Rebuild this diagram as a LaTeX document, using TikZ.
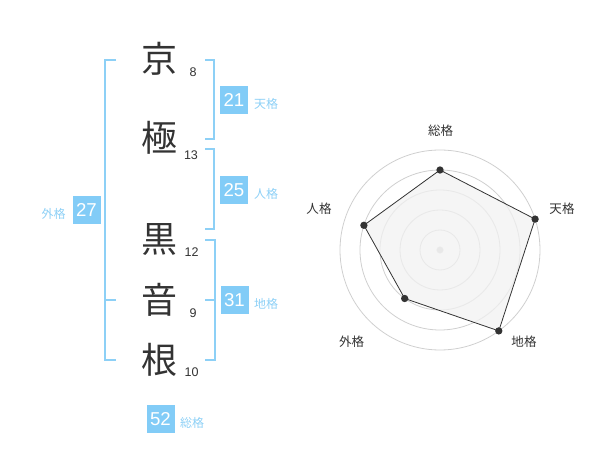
\documentclass[tikz,border=0pt]{standalone}
\usepackage{fontspec}
\setmainfont{Liberation Sans}
\newfontfamily\cjk{Noto Sans CJK JP}
\definecolor{kakublue}{HTML}{82CCF7}
\definecolor{kakuline}{HTML}{8DD0F6}
\definecolor{kakutext}{HTML}{333333}
\definecolor{ringgray}{HTML}{CFCFCF}
\definecolor{areagray}{HTML}{F1F1F1}

\tikzset{every picture/.style={line width=0.75pt}}
\tikzset{
  namechar/.style={text=kakutext, inner sep=0pt, font=\cjk\fontsize{27pt}{27pt}\selectfont},
  strokes/.style={text=kakutext, inner sep=0pt, anchor=base, font=\fontsize{9.4pt}{9.4pt}\selectfont},
  kakubox/.style={fill=kakublue, text=white, minimum size=21pt, inner sep=0pt, font=\fontsize{14pt}{14pt}\selectfont},
  kakuname/.style={text=kakuline, inner sep=0pt, font=\cjk\fontsize{9pt}{9pt}\selectfont},
  bracket/.style={draw=kakuline, line width=1.5pt},
  ring/.style={draw=ringgray, line width=0.6pt},
  axisname/.style={text=kakutext, inner sep=0pt, font=\cjk\fontsize{9.4pt}{9.4pt}\selectfont},
  vdot/.style={circle, fill=kakutext, inner sep=0pt, minimum size=5.5pt}
}

\begin{document}
\begin{tikzpicture}[x=0.75pt,y=0.75pt,yscale=-1,xscale=1]
\useasboundingbox (0,0) rectangle (600,470);

% Name characters
\node[namechar] (c1) at (159,59) {京};
\node[namechar] (c2) at (159,137.5) {極};
\node[namechar] (c3) at (159,240) {黒};
\node[namechar] (c4) at (159,300) {音};
\node[namechar] (c5) at (159,359.5) {根};

% Stroke counts
\node[strokes] (n1) at (193,77) {8};
\node[strokes] (n2) at (191,160) {13};
\node[strokes] (n3) at (191.5,257) {12};
\node[strokes] (n4) at (193,318) {9};
\node[strokes] (n5) at (191.5,377) {10};

%Bracket: outer
\draw[bracket] (116,60) -- (105,60) -- (105,360) -- (116,360) ;
\draw[bracket] (105,300) -- (116,300) ;
%Bracket: heaven
\draw[bracket] (205,60) -- (214,60) -- (214,139) -- (205,139) ;
%Bracket: person
\draw[bracket] (205,149) -- (214,149) -- (214,229) -- (205,229) ;
%Bracket: earth
\draw[bracket] (205,240) -- (215,240) -- (215,360) -- (205,360) ;
\draw[bracket] (205,300) -- (215,300) ;

% Score boxes
\node[kakubox] (ten) at (234,100) {21};
\node[kakuname] (tenl) at (266,104) {天格};
\node[kakubox] (jin) at (234,190) {25};
\node[kakuname] (jinl) at (266,194) {人格};
\node[kakubox] (gai) at (86.5,210) {27};
\node[kakuname] (gail) at (53.5,214) {外格};
\node[kakubox] (chi) at (234.5,300.5) {31};
\node[kakuname] (chil) at (266,304) {地格};
\node[kakubox] (sou) at (160.5,419) {52};
\node[kakuname] (soul) at (192,422.5) {総格};

%Radar rings
\coordinate (o) at (440,250);
\foreach \r in {20,40,60,80,100}
  \draw[ring] (o) circle [radius=\r*0.75pt];
\fill[ringgray] (o) circle [radius=2.6pt];

%Radar values
\coordinate (vsou) at (440,170);
\coordinate (vten) at (535.1,219.1);
\coordinate (vchi) at (498.8,330.9);
\coordinate (vgai) at (404.7,298.5);
\coordinate (vjin) at (363.9,225.3);
\draw[fill=areagray, fill opacity=0.75, draw=kakutext, line width=0.6pt] (vsou) -- (vten) -- (vchi) -- (vgai) -- (vjin) -- cycle ;
\foreach \p in {vsou,vten,vchi,vgai,vjin}
  \node[vdot] at (\p) {};

% Axis labels
\node[axisname] (asou) at (440.7,130.7) {総格};
\node[axisname] (aten) at (562,209) {天格};
\node[axisname] (achi) at (524,341.7) {地格};
\node[axisname] (agai) at (351.7,341.7) {外格};
\node[axisname] (ajin) at (319,209) {人格};

\end{tikzpicture}
\end{document}
